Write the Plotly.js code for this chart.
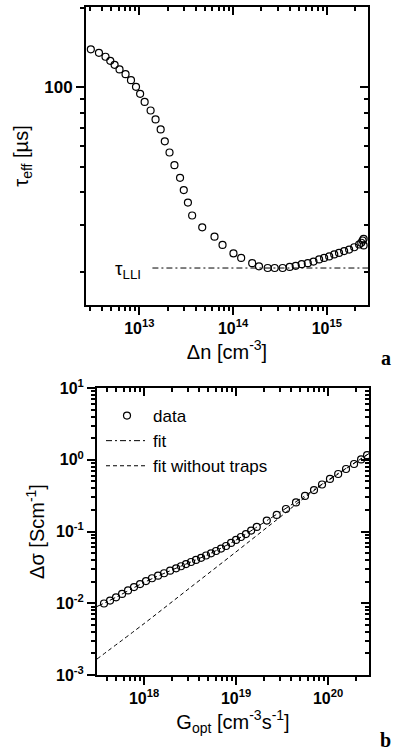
<!DOCTYPE html>
<html>
<head>
<meta charset="utf-8">
<script src="https://cdn.plot.ly/plotly-3.0.1.min.js"></script>
<style>html,body{margin:0;padding:0;background:#fff;}#chart{width:397px;height:751px;}</style>
</head>
<body>
<div id="chart"></div>
<script>
// ---- panel a: effective lifetime vs excess carrier density ----
const deltaN = [3.04e12, 3.71e12, 4.36e12, 4.90e12, 5.45e12, 6.15e12, 7.13e12, 8.15e12, 9.22e12, 1.02e13,
  1.14e13, 1.32e13, 1.49e13, 1.69e13, 1.87e13, 2.10e13, 2.37e13, 2.72e13, 2.98e13, 3.30e13,
  3.66e13, 4.69e13, 6.34e13, 7.72e13, 1.01e14, 1.22e14, 1.60e14, 1.89e14, 2.34e14, 2.78e14,
  3.38e14, 4.02e14, 4.66e14, 5.40e14, 6.27e14, 7.21e14, 8.28e14, 9.36e14, 1.06e15, 1.20e15,
  1.35e15, 1.53e15, 1.73e15, 1.96e15, 2.21e15, 2.33e15, 2.41e15, 2.47e15, 2.47e15];
const tauEff = [139, 134.9, 130.3, 125.8, 121.5, 116.7, 112.0, 106.3, 100.3, 94.4,
  87.9, 81.6, 75.5, 69.2, 62.4, 56.6, 50.7, 45.4, 40.8, 36.6,
  32.7, 29.5, 27.2, 25.3, 23.5, 22.6, 21.6, 21.0, 20.7, 20.7,
  20.7, 20.9, 21.1, 21.4, 21.6, 21.9, 22.3, 22.6, 22.9, 23.3,
  23.6, 24.0, 24.3, 24.8, 25.4, 25.8, 26.3, 26.7, 25.2];
const tauLLIx = [1.38e13, 2.75e15];
const tauLLIy = [20.7, 20.7];

// ---- panel b: photoconductance vs optical generation ----
const gOpt = [3.67e17, 4.27e17, 4.96e17, 5.77e17, 6.70e17, 7.78e17, 9.05e17, 1.05e18, 1.22e18, 1.42e18,
  1.65e18, 1.92e18, 2.23e18, 2.52e18, 2.86e18, 3.24e18, 3.67e18, 4.17e18, 4.72e18, 5.35e18,
  6.06e18, 6.87e18, 7.79e18, 8.83e18, 1.00e19, 1.13e19, 1.28e19, 1.46e19, 1.68e19, 2.16e19,
  2.77e19, 3.49e19, 4.49e19, 5.62e19, 7.04e19, 8.61e19, 1.05e20, 1.29e20, 1.57e20, 1.92e20,
  2.29e20, 2.66e20];
const dSigma = [9.92e-3, 1.09e-2, 1.21e-2, 1.35e-2, 1.51e-2, 1.68e-2, 1.85e-2, 2.04e-2, 2.23e-2, 2.42e-2,
  2.62e-2, 2.84e-2, 3.07e-2, 3.28e-2, 3.52e-2, 3.76e-2, 4.01e-2, 4.30e-2, 4.63e-2, 4.97e-2,
  5.35e-2, 5.79e-2, 6.28e-2, 6.92e-2, 7.62e-2, 8.38e-2, 9.22e-2, 0.103, 0.116, 0.142,
  0.170, 0.206, 0.254, 0.313, 0.378, 0.452, 0.540, 0.633, 0.743, 0.873,
  1.01, 1.16];
const fitG = [3.08e17, 5e17, 1e18, 2e18, 5e18, 1e19, 2e19, 5e19, 1e20, 2.79e20];
const fitS = [9.0e-3, 1.22e-2, 1.95e-2, 2.9e-2, 4.8e-2, 7.6e-2, 0.133, 0.285, 0.52, 1.22];
const noTrapG = [3.08e17, 1e18, 3e18, 1e19, 2e19, 3e19, 4.5e19, 7e19, 1e20, 2.79e20];
const noTrapS = [1.67e-3, 5.2e-3, 1.56e-2, 5.2e-2, 0.105, 0.158, 0.24, 0.37, 0.51, 1.22];

// ---- tick labels ----
const xTickA = [1e13, 1e14, 1e15];
const xTickTextA = ['10<sup>13</sup>', '10<sup>14</sup>', '10<sup>15</sup>'];
const yTickA = [100];
const yTickTextA = ['100'];
const xTickB = [1e18, 1e19, 1e20];
const xTickTextB = ['10<sup>18</sup>', '10<sup>19</sup>', '10<sup>20</sup>'];
const yTickB = [1e-3, 1e-2, 1e-1, 1, 10];
const yTickTextB = ['10<sup>-3</sup>', '10<sup>-2</sup>', '10<sup>-1</sup>', '10<sup>0</sup>', '10<sup>1</sup>'];

function minorsBetween(lo, hi) {
  const out = [];
  for (let e = Math.floor(Math.log10(lo)); e <= Math.ceil(Math.log10(hi)); e++) {
    for (let d = 2; d <= 9; d++) {
      const v = d * Math.pow(10, e);
      if (v >= lo && v <= hi) out.push(v);
    }
  }
  return out;
}

const FONT = 'Liberation Sans, Arial, sans-serif';
const tickFont = {family: FONT, size: 16, color: '#000', weight: 'bold'};

function mainAxis(extra) {
  return Object.assign({
    type: 'log', showgrid: false, zeroline: false,
    showline: true, linecolor: '#000', linewidth: 2, mirror: true,
    ticks: 'outside', ticklen: 8, tickwidth: 2, tickcolor: '#000',
    tickmode: 'array', tickfont: tickFont
  }, extra);
}
function mirrorAxis(extra, minorVals) {
  return Object.assign({
    type: 'log', showgrid: false, zeroline: false, showline: false,
    ticks: 'inside', ticklen: 8, tickwidth: 2, tickcolor: '#000',
    tickmode: 'array', showticklabels: false,
    minor: {tickmode: 'array', tickvals: minorVals, ticks: 'inside', ticklen: 4, tickwidth: 2, tickcolor: '#000', showgrid: false}
  }, extra);
}

const xRangeA = [Math.log10(2.7e12), Math.log10(2.75e15)];
const yRangeA = [Math.log10(15), Math.log10(201)];
const xRangeB = [Math.log10(3.08e17), Math.log10(2.79e20)];
const yRangeB = [-3, 1];

const minXA = minorsBetween(2.7e12, 2.75e15);
const minYA = minorsBetween(15, 201);
const minXB = minorsBetween(3.08e17, 2.79e20);
const minYB = minorsBetween(1e-3, 10);

const DASHDOT = '6px,3px,2px,3px';
const DASH = '4px,3px';

const traces = [
  {x: deltaN, y: tauEff, xaxis: 'x', yaxis: 'y', mode: 'markers', showlegend: false,
   marker: {symbol: 'circle-open', size: 7, color: '#000', line: {width: 1.2, color: '#000'}}},
  {x: tauLLIx, y: tauLLIy, xaxis: 'x', yaxis: 'y', mode: 'lines', showlegend: false,
   line: {color: '#000', width: 1, dash: DASHDOT}},
  {x: [], y: [], xaxis: 'x3', yaxis: 'y3', mode: 'markers', showlegend: false, hoverinfo: 'skip'},
  {x: gOpt, y: dSigma, xaxis: 'x2', yaxis: 'y2', mode: 'markers', name: 'data',
   marker: {symbol: 'circle-open', size: 7, color: '#000', line: {width: 1.2, color: '#000'}}},
  {x: fitG, y: fitS, xaxis: 'x2', yaxis: 'y2', mode: 'lines', name: 'fit', line: {shape: 'spline',
   color: '#000', width: 1, dash: DASHDOT}},
  {x: noTrapG, y: noTrapS, xaxis: 'x2', yaxis: 'y2', mode: 'lines', name: 'fit without traps', line: {shape: 'spline',
   color: '#000', width: 1, dash: DASH}},
  {x: [], y: [], xaxis: 'x4', yaxis: 'y4', mode: 'markers', showlegend: false, hoverinfo: 'skip'}
];

const layout = {
  width: 397, height: 751,
  margin: {l: 0, r: 0, t: 0, b: 0},
  paper_bgcolor: '#fff', plot_bgcolor: '#fff',
  font: {family: FONT, color: '#000'},
  xaxis: mainAxis({domain: [86/397, 368/397], anchor: 'y', range: xRangeA,
    tickvals: xTickA, ticktext: xTickTextA,
    minor: {tickmode: 'array', tickvals: minXA, ticks: 'outside', ticklen: 4, tickwidth: 2, tickcolor: '#000', showgrid: false},
    title: {text: '\u0394n [cm<sup>-3</sup>]', font: {family: FONT, size: 20}, standoff: 6}}),
  yaxis: mainAxis({domain: [1 - 305/751, 1 - 7/751], anchor: 'x', range: yRangeA,
    tickvals: yTickA, ticktext: yTickTextA, tickfont: {family: FONT, size: 17, weight: 'bold', color: '#000'},
    minor: {tickmode: 'array', tickvals: minYA, ticks: 'outside', ticklen: 4, tickwidth: 2, tickcolor: '#000', showgrid: false},
    title: {text: '\u03c4<sub>eff</sub> [\u00b5s]', font: {family: FONT, size: 20}, standoff: 10}}),
  xaxis3: mirrorAxis({overlaying: 'x', side: 'top', anchor: 'y', range: xRangeA, tickvals: xTickA}, minXA),
  yaxis3: mirrorAxis({overlaying: 'y', side: 'right', anchor: 'x', range: yRangeA, tickvals: yTickA}, minYA),
  xaxis2: mainAxis({domain: [97/397, 369/397], anchor: 'y2', range: xRangeB,
    tickvals: xTickB, ticktext: xTickTextB,
    minor: {tickmode: 'array', tickvals: minXB, ticks: 'outside', ticklen: 4, tickwidth: 2, tickcolor: '#000', showgrid: false},
    title: {text: 'G<sub>opt</sub> [cm<sup>-3</sup>s<sup>-1</sup>]', font: {family: FONT, size: 20}, standoff: 4}}),
  yaxis2: mainAxis({domain: [1 - 675/751, 1 - 388/751], anchor: 'x2', range: yRangeB,
    tickvals: yTickB, ticktext: yTickTextB,
    minor: {tickmode: 'array', tickvals: minYB, ticks: 'outside', ticklen: 4, tickwidth: 2, tickcolor: '#000', showgrid: false},
    title: {text: '\u0394\u03c3 [Scm<sup>-1</sup>]', font: {family: FONT, size: 20}, standoff: 6}}),
  xaxis4: mirrorAxis({overlaying: 'x2', side: 'top', anchor: 'y2', range: xRangeB, tickvals: xTickB}, minXB),
  yaxis4: mirrorAxis({overlaying: 'y2', side: 'right', anchor: 'x2', range: yRangeB, tickvals: yTickB}, minYB),
  showlegend: true,
  legend: {x: 101/397, y: 1 - 398/751, xanchor: 'left', yanchor: 'top', bgcolor: 'rgba(0,0,0,0)',
    borderwidth: 0, font: {family: FONT, size: 17, color: '#000'}, tracegroupgap: 0, itemwidth: 42},
  annotations: [
    {xref: 'paper', yref: 'paper', x: 113/397, y: 1 - 270/751, xanchor: 'left', yanchor: 'middle',
     text: '\u03c4<sub>LLI</sub>', showarrow: false, font: {family: FONT, size: 19, color: '#000'}},
    {xref: 'paper', yref: 'paper', x: 393/397, y: 1 - 358/751, xanchor: 'right', yanchor: 'middle',
     text: '<b>a</b>', showarrow: false, font: {family: 'Liberation Serif, Times New Roman, serif', size: 20, color: '#000'}},
    {xref: 'paper', yref: 'paper', x: 393/397, y: 1 - 740/751, xanchor: 'right', yanchor: 'middle',
     text: '<b>b</b>', showarrow: false, font: {family: 'Liberation Serif, Times New Roman, serif', size: 20, color: '#000'}}
  ]
};

Plotly.newPlot('chart', traces, layout, {staticPlot: true, displayModeBar: false});
</script>
</body>
</html>
